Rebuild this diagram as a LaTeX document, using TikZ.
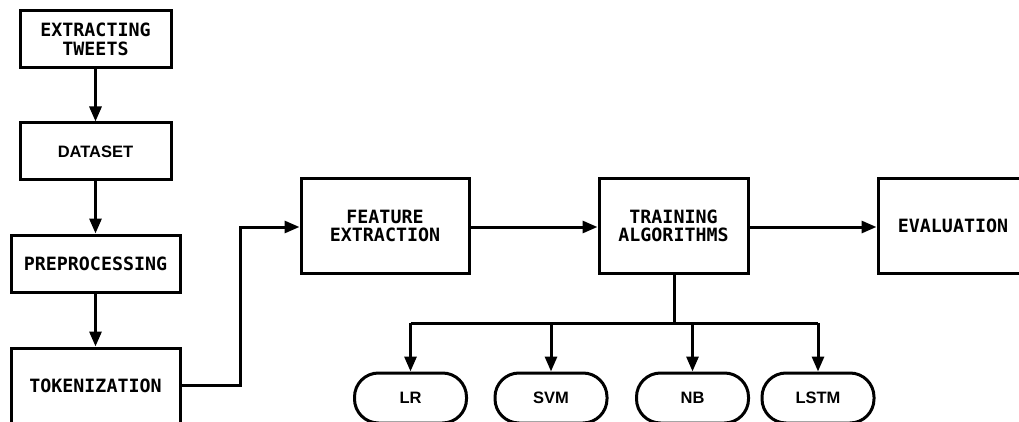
\documentclass[tikz,border=0pt]{standalone}
\usepackage{fontspec}
\usetikzlibrary{arrows.meta}
\newfontfamily\boxmono{DejaVu Sans Mono}
\newfontfamily\boxsans{Liberation Sans}
\begin{document}
\begin{tikzpicture}[x=1pt,y=-1pt,
  lw/.style={line width=3pt},
  boxnode/.style={draw,lw,rectangle,minimum width=151pt,minimum height=57pt,inner sep=0pt,
     align=center,font=\boxmono\bfseries\fontsize{18.3}{18.5}\selectfont},
  pill/.style={draw,lw,rectangle,rounded corners=24pt,minimum width=112pt,minimum height=50pt,inner sep=0pt,
     font=\boxsans\bfseries\fontsize{16.5}{18}\selectfont},
  conn/.style={lw,-{Triangle[length=15pt,width=12pt]}},
  plain/.style={lw}]
\useasboundingbox (0,0) rectangle (1019,422);
\clip (0,0) rectangle (1019,422);
\fill[white] (0,0) rectangle (1019,422);
% left column
\node[boxnode] (ext) at (95.5,39.5) {EXTRACTING\\TWEETS};
\node[boxnode,font=\boxsans\bfseries\fontsize{16.5}{18}\selectfont] (data) at (95.5,151.5) {DATASET};
\node[boxnode,minimum width=169pt] (pre) at (95.5,263.5) {PREPROCESSING};
\node[boxnode,minimum width=169pt,minimum height=76pt] (tok) at (95.5,386) {TOKENIZATION};
% middle row
\node[boxnode,minimum width=168pt,minimum height=94pt] (fe) at (385,226) {FEATURE\\EXTRACTION};
\node[boxnode,minimum width=149pt,minimum height=94pt] (tr) at (673.5,226) {TRAINING\\ALGORITHMS};
\node[boxnode,minimum width=150pt,minimum height=94pt] (ev) at (953,226) {EVALUATION};
% pills
\node[pill] (lr) at (410.5,398) {LR};
\node[pill] (svm) at (551,398) {SVM};
\node[pill] (nb) at (692.5,398) {NB};
\node[pill] (lstm) at (818,398) {LSTM};
% connectors
\draw[conn] (ext.south) -- (data.north);
\draw[conn] (data.south) -- (pre.north);
\draw[conn] (pre.south) -- (tok.north);
\coordinate (t1) at (240,385);
\coordinate (t2) at (240,227);
\draw[conn] (tok.east |- t1) -- (t1) -- (t2) -- (fe.west |- t2);
\draw[conn] (fe.east |- t2) -- (tr.west |- t2);
\draw[conn] (tr.east |- t2) -- (ev.west |- t2);
\coordinate (bj) at (674,323);
\draw[plain] (tr.south -| bj) -- (bj);
\draw[plain] (lr.north |- bj) -- (lstm.north |- bj);
\draw[conn] (lr.north |- bj) -- (lr.north);
\draw[conn] (svm.north |- bj) -- (svm.north);
\draw[conn] (nb.north |- bj) -- (nb.north);
\draw[conn] (lstm.north |- bj) -- (lstm.north);
\end{tikzpicture}
\end{document}
